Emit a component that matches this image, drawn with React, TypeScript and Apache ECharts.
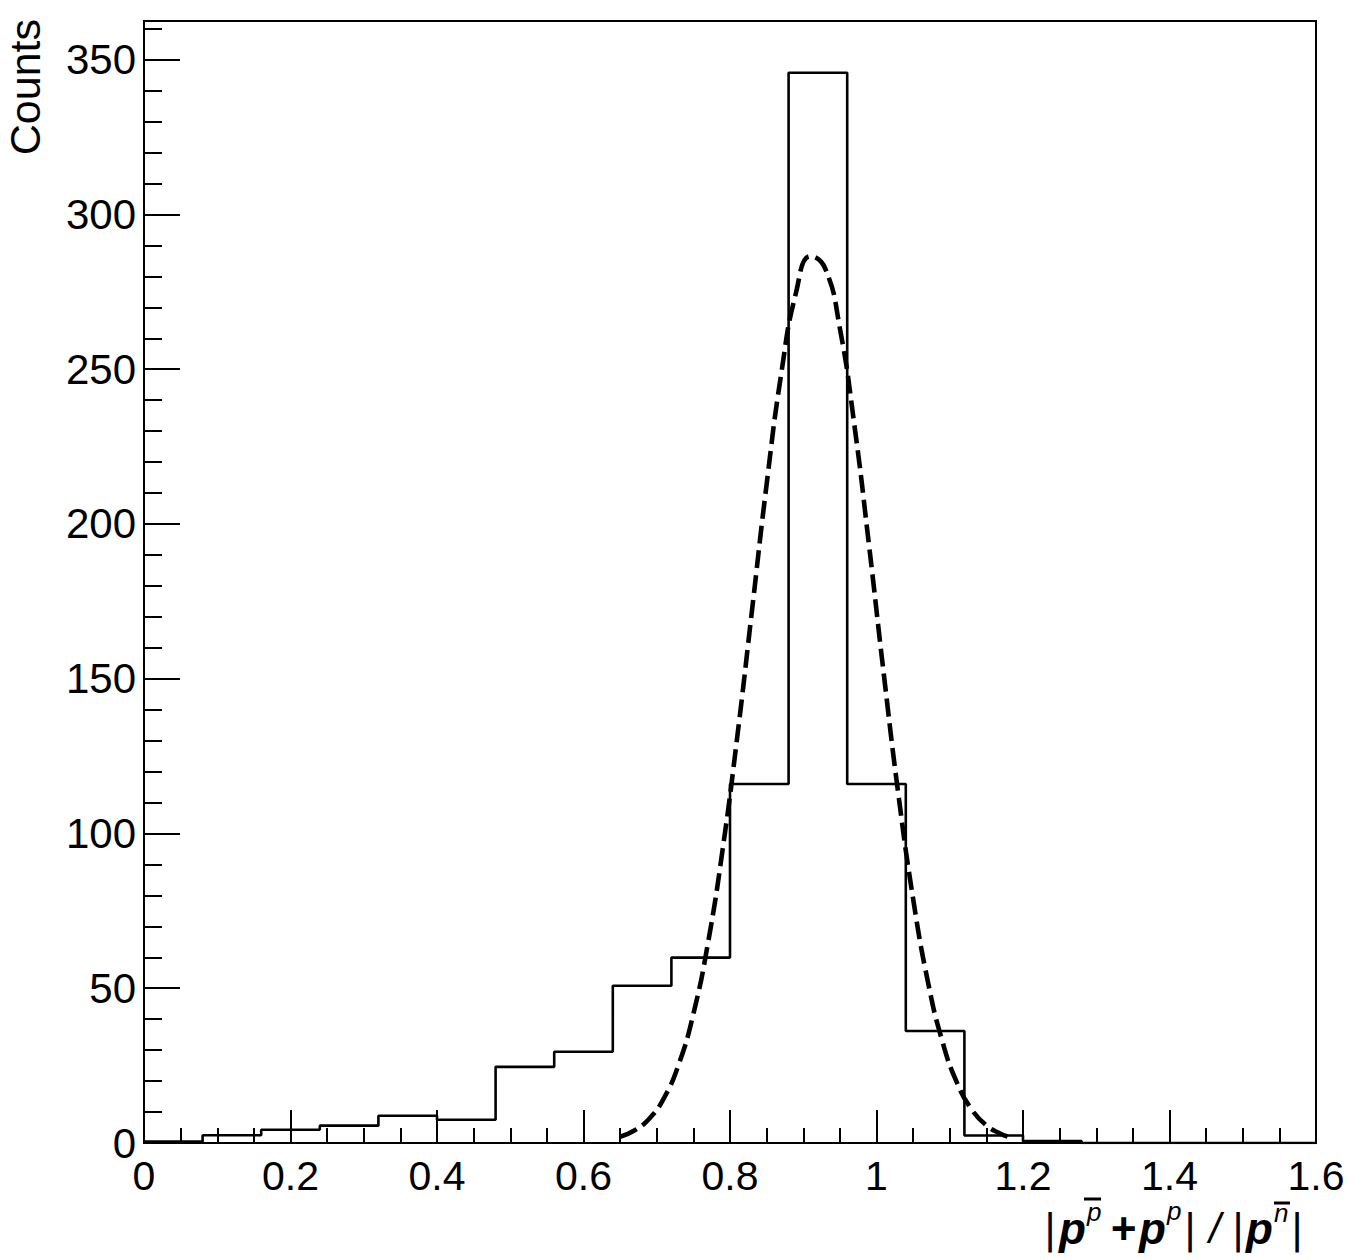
import React, { useEffect, useRef } from "react";
import * as echarts from "echarts";

// Histogram bin edges (width 0.08) and counts
const binEdges = [0, 0.08, 0.16, 0.24, 0.32, 0.4, 0.48, 0.56, 0.64, 0.72, 0.8, 0.88, 0.96, 1.04, 1.12, 1.2, 1.28, 1.36, 1.44, 1.52, 1.6];
const binCounts = [0.5, 2.5, 4.3, 5.6, 8.8, 7.5, 24.6, 29.5, 50.8, 59.9, 116, 345.8, 116, 36.2, 2.4, 0.6, 0, 0, 0, 0];

// Fitted curve (dashed)
const fitX = [0.65, 0.67, 0.69, 0.71, 0.73, 0.75, 0.77, 0.79, 0.81, 0.83, 0.85, 0.87, 0.89, 0.91, 0.93, 0.95, 0.97, 0.99, 1.01, 1.03, 1.05, 1.07, 1.09, 1.11, 1.13, 1.15, 1.17, 1.18];
const fitY = [2.0, 4.1, 7.9, 14.6, 25.4, 41.7, 64.7, 94.9, 131.4, 172.0, 212.8, 248.6, 274.6, 286.5, 282.5, 263.2, 231.6, 192.7, 151.4, 112.4, 78.9, 52.3, 32.8, 19.4, 10.8, 5.7, 2.9, 2.0];

const yMajorTicks = [0, 50, 100, 150, 200, 250, 300, 350];
const yMinorTicks = [10, 20, 30, 40, 60, 70, 80, 90, 110, 120, 130, 140, 160, 170, 180, 190, 210, 220, 230, 240, 260, 270, 280, 290, 310, 320, 330, 340, 360];

const yTitle = "Counts";

const FONT = "'Liberation Sans', Arial, Helvetica, sans-serif";

export default function App() {
  const ref = useRef<HTMLDivElement>(null);
  useEffect(() => {
    document.body.style.margin = "0";
    if (!ref.current) return;
    const chart = echarts.init(ref.current, null, { renderer: "svg" });

    const histData: [number, number][] = binCounts.map((c, i) => [binEdges[i], c]);
    histData.push([binEdges[binEdges.length - 1], binCounts[binCounts.length - 1]]);
    const fitData = fitX.map((x, i) => [x, fitY[i]]);

    const txt = (x: number, y: number, text: string, size: number, weight: string, style: string, align = "left") => ({
      type: "text",
      x,
      y,
      style: {
        text,
        fill: "#000",
        font: `${style} ${weight} ${size}px ${FONT}`,
        textAlign: align,
        textVerticalAlign: "middle",
      },
    });

    const bar = (x1: number, x2: number, y: number) => ({
      type: "line",
      shape: { x1, y1: y, x2, y2: y },
      style: { stroke: "#000", lineWidth: 3 },
    });

    chart.setOption({
      animation: false,
      backgroundColor: "#fff",
      grid: {
        left: 144,
        right: 52,
        top: 21,
        bottom: 117,
        show: true,
        borderColor: "#000",
        borderWidth: 2,
        backgroundColor: "transparent",
      },
      xAxis: {
        type: "value",
        min: 0,
        max: 1.6,
        interval: 0.2,
        axisLine: { show: true, lineStyle: { color: "#000", width: 2 } },
        axisTick: { show: true, inside: true, length: 33, lineStyle: { color: "#000", width: 2 } },
        minorTick: { show: true, splitNumber: 4, length: 15, lineStyle: { color: "#000", width: 2 } },
        splitLine: { show: false },
        minorSplitLine: { show: false },
        axisLabel: {
          color: "#000",
          fontSize: 41,
          fontFamily: FONT,
          margin: 12,
          showMinLabel: true,
          showMaxLabel: true,
        },
      },
      yAxis: [
        {
          type: "value",
          min: 0,
          max: 362.5,
          position: "left",
          axisLine: { show: true, lineStyle: { color: "#000", width: 2 } },
          axisTick: { show: true, inside: true, length: 36, customValues: yMajorTicks, lineStyle: { color: "#000", width: 2 } },
          splitLine: { show: false },
          axisLabel: {
            color: "#000",
            fontSize: 42,
            fontFamily: FONT,
            margin: 8,
            customValues: yMajorTicks,
          },
        },
        {
          type: "value",
          min: 0,
          max: 362.5,
          position: "left",
          axisLine: { show: false },
          axisTick: { show: true, inside: true, length: 18, customValues: yMinorTicks, lineStyle: { color: "#000", width: 2 } },
          splitLine: { show: false },
          axisLabel: { show: false },
        },
      ],
      series: [
        {
          type: "line",
          data: histData,
          step: "end",
          showSymbol: false,
          symbol: "none",
          lineStyle: { color: "#000", width: 2.6 },
          z: 2,
        },
        {
          type: "line",
          data: fitData,
          smooth: true,
          showSymbol: false,
          symbol: "none",
          lineStyle: { color: "#000", width: 4.6, type: [18, 7] },
          z: 3,
        },
      ],
      graphic: [
        {
          type: "text",
          x: 25,
          y: 19,
          rotation: Math.PI / 2,
          style: {
            text: yTitle,
            fill: "#000",
            font: `normal 43px ${FONT}`,
            textAlign: "right",
            textVerticalAlign: "middle",
          },
        },
        txt(1044, 1228, "|", 42, "normal", "italic"),
        txt(1059, 1228, "p", 44, "bold", "italic"),
        txt(1087, 1212, "p", 26, "normal", "italic"),
        bar(1084, 1101, 1199),
        txt(1110, 1228, "+", 44, "bold", "italic"),
        txt(1139, 1228, "p", 44, "bold", "italic"),
        txt(1167, 1211, "p", 26, "normal", "italic"),
        txt(1184, 1228, "|", 42, "normal", "italic"),
        txt(1209, 1228, "/", 42, "normal", "italic"),
        txt(1232, 1228, "|", 42, "normal", "italic"),
        txt(1246, 1228, "p", 44, "bold", "italic"),
        txt(1274, 1213, "n", 26, "normal", "italic"),
        bar(1274, 1290, 1203),
        txt(1291, 1228, "|", 42, "normal", "italic"),
      ],
    });
    return () => chart.dispose();
  }, []);
  return <div ref={ref} style={{ width: 1368, height: 1260 }} />;
}
